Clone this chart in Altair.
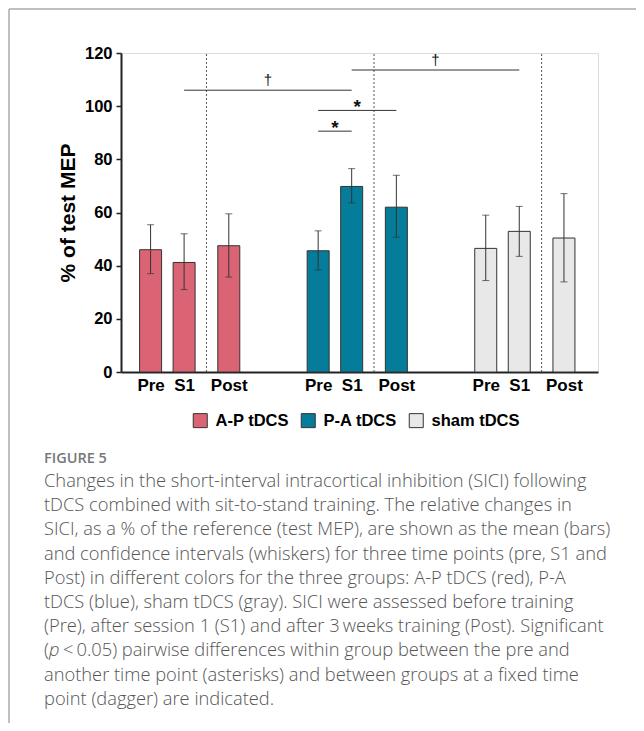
import altair as alt
import pandas as pd

# ---------------- data ----------------
groups = ["A-P tDCS", "P-A tDCS", "sham tDCS"]
times = ["Pre", "S1", "Post"]
colors = ["#DB6474", "#057C99", "#E8E8E8"]

mean_ap = [46.0, 41.2, 47.5]
mean_pa = [45.6, 69.8, 62.0]
mean_sham = [46.5, 52.9, 50.4]

low_ap = [37.0, 31.0, 35.7]
low_pa = [38.4, 63.6, 50.7]
low_sham = [34.4, 43.5, 33.9]

high_ap = [55.4, 52.0, 59.5]
high_pa = [53.1, 76.5, 74.0]
high_sham = [59.0, 62.3, 67.1]

# significance brackets
sig_from = [("A-P tDCS", "S1"), ("P-A tDCS", "S1"), ("P-A tDCS", "Pre"), ("P-A tDCS", "Pre")]
sig_to = [("P-A tDCS", "S1"), ("sham tDCS", "S1"), ("P-A tDCS", "S1"), ("P-A tDCS", "Post")]
sig_level = [106.0, 113.6, 90.6, 98.4]
sig_symbol = ["\u2020", "\u2020", "*", "*"]

y_ticks = [0, 20, 40, 60, 80, 100, 120]

caption_head = "FIGURE 5"
caption_lines = [
    "Changes in the short-interval intracortical inhibition (SICI) following",
    "tDCS combined with sit-to-stand training. The relative changes in",
    "SICI, as a % of the reference (test MEP), are shown as the mean (bars)",
    "and confidence intervals (whiskers) for three time points (pre, S1 and",
    "Post) in different colors for the three groups: A-P tDCS (red), P-A",
    "tDCS (blue), sham tDCS (gray). SICI were assessed before training",
    "(Pre), after session 1 (S1) and after 3\u2009weeks training (Post). Significant",
    ["(", "p", "<\u20090.05) pairwise differences within group between the pre and"],
    "another time point (asterisks) and between groups at a fixed time",
    "point (dagger) are indicated.",
]

# ---------------- layout helpers ----------------
GROUP_STEP = 15
TIME_OFFSET = {"Pre": 0, "S1": 3, "Post": 7}
DIVIDER_OFFSET = 5


def slot(g, t):
    return groups.index(g) * GROUP_STEP + TIME_OFFSET[t]


means = [mean_ap, mean_pa, mean_sham]
lows = [low_ap, low_pa, low_sham]
highs = [high_ap, high_pa, high_sham]

rows = []
for gi, g in enumerate(groups):
    for ti, t in enumerate(times):
        rows.append({"group": g, "time": t, "pos": slot(g, t),
                     "mean": means[gi][ti], "low": lows[gi][ti], "high": highs[gi][ti]})
df = pd.DataFrame(rows)

div_df = pd.DataFrame({"pos": [i * GROUP_STEP + DIVIDER_OFFSET for i in range(len(groups))]})

sig_df = pd.DataFrame({
    "xa": [slot(*a) for a in sig_from],
    "xb": [slot(*b) for b in sig_to],
    "level": sig_level,
    "symbol": sig_symbol,
})
sig_df["mid"] = (sig_df["xa"] + sig_df["xb"]) / 2

tick_vals = sorted(df["pos"].tolist())
label_expr = ("datum.value % {s} == {pre} ? 'Pre' : (datum.value % {s} == {s1} ? 'S1' : 'Post')"
              .format(s=GROUP_STEP, pre=TIME_OFFSET["Pre"], s1=TIME_OFFSET["S1"]))

FONT = "Liberation Sans"
x_scale = alt.Scale(domain=[-2.2, 39.6], nice=False, zero=False)
y_scale = alt.Scale(domain=[0, 120], nice=False)

base = alt.Chart(df)

bars = base.mark_bar(size=22, stroke="#333333", strokeWidth=1).encode(
    x=alt.X("pos:Q", scale=x_scale,
            axis=alt.Axis(values=tick_vals, labelExpr=label_expr, ticks=False, grid=False,
                          title=None, domainColor="#222222", domainWidth=2,
                          labelFont=FONT, labelFontSize=17, labelFontWeight="bold",
                          labelColor="#000000", labelPadding=5, labelFlush=False,
                          labelOverlap=False)),
    y=alt.Y("mean:Q", scale=y_scale,
            axis=alt.Axis(values=y_ticks, grid=False, title="% of test MEP",
                          titleFont=FONT, titleFontSize=21, titleFontWeight="bold",
                          titleColor="#000000", titlePadding=6,
                          domainColor="#222222", domainWidth=2,
                          tickColor="#222222", tickWidth=1.5, tickSize=5,
                          labelFont=FONT, labelFontSize=16.5, labelFontWeight="bold",
                          labelColor="#000000", labelPadding=4)),
    fill=alt.Fill("group:N", scale=alt.Scale(domain=groups, range=colors),
                  legend=alt.Legend(orient="none", legendX=71, legendY=359,
                                    direction="horizontal", title=None,
                                    symbolType="square", symbolSize=196,
                                    symbolStrokeColor="#333333", symbolStrokeWidth=1,
                                    symbolOpacity=1,
                                    labelFont=FONT, labelFontSize=16.5, labelFontWeight="bold",
                                    labelColor="#000000", labelOffset=7,
                                    columnPadding=10)),
)

err = base.mark_rule(color="#333333", strokeWidth=1).encode(
    x="pos:Q", y="low:Q", y2="high:Q")
cap_lo = base.mark_tick(orient="horizontal", size=7, thickness=1, color="#333333").encode(
    x="pos:Q", y="low:Q")
cap_hi = base.mark_tick(orient="horizontal", size=7, thickness=1, color="#333333").encode(
    x="pos:Q", y="high:Q")

dividers = alt.Chart(div_df).mark_rule(color="#555555", strokeWidth=1, strokeDash=[2, 2]).encode(
    x="pos:Q", y=alt.datum(0), y2=alt.datum(120))

sig_lines = alt.Chart(sig_df).mark_rule(color="#333333", strokeWidth=1).encode(
    x="xa:Q", x2="xb:Q", y="level:Q")
daggers = alt.Chart(sig_df).transform_filter("datum.symbol != '*'").mark_text(
    font=FONT, fontSize=15, color="#111111", baseline="alphabetic", dy=-5).encode(
    x="mid:Q", y="level:Q", text="symbol:N")
stars = alt.Chart(sig_df).transform_filter("datum.symbol == '*'").mark_text(
    font=FONT, fontSize=19, fontWeight="bold", color="#111111", baseline="alphabetic", dy=3).encode(
    x="mid:Q", y="level:Q", text="symbol:N")

one = pd.DataFrame({"k": [0]})

# page-frame lines (plot origin is at page x=121, y=53)
frame_top = alt.Chart(one).mark_rule(color="#AAAAAA", strokeWidth=1.5).encode(
    x=alt.value(-112), x2=alt.value(515), y=alt.value(-44))
frame_left = alt.Chart(one).mark_rule(color="#AAAAAA", strokeWidth=1.5).encode(
    x=alt.value(-112), y=alt.value(-44), y2=alt.value(670))

CAP_X = -77
CAP_SIZE = 18.3
cap_layers = [
    alt.Chart(one).mark_text(align="left", baseline="middle", font="Open Sans", fontSize=14.5,
                             fontWeight=600, color="#777777").encode(
        x=alt.value(CAP_X), y=alt.value(406), text=alt.value(caption_head))
]
# approximate advance widths for the pieces of the line with an italic "p"
piece_offsets = [0, 5.0, 19.0]
for i, line in enumerate(caption_lines):
    y_line = 429 + i * 24.2
    if isinstance(line, list):
        for j, piece in enumerate(line):
            cap_layers.append(
                alt.Chart(one).mark_text(align="left", baseline="middle", font="Open Sans",
                                         fontSize=CAP_SIZE, fontWeight=300, color="#555555",
                                         fontStyle="italic" if piece == "p" else "normal").encode(
                    x=alt.value(CAP_X + piece_offsets[j]), y=alt.value(y_line), text=alt.value(piece))
            )
    else:
        cap_layers.append(
            alt.Chart(one).mark_text(align="left", baseline="middle", font="Open Sans",
                                     fontSize=CAP_SIZE, fontWeight=300, color="#555555").encode(
                x=alt.value(CAP_X), y=alt.value(y_line), text=alt.value(line))
        )

chart = alt.layer(
    frame_top, frame_left, dividers, bars, err, cap_lo, cap_hi, sig_lines, daggers, stars,
    *cap_layers
).properties(
    width=477, height=319,
    autosize=alt.AutoSizeParams(type="none"),
    padding={"left": 113, "top": 45, "right": 38, "bottom": 351},
).configure_view(stroke=None).configure(background="white")

chart.save("out.html", embed_options={"renderer": "svg", "actions": False})
